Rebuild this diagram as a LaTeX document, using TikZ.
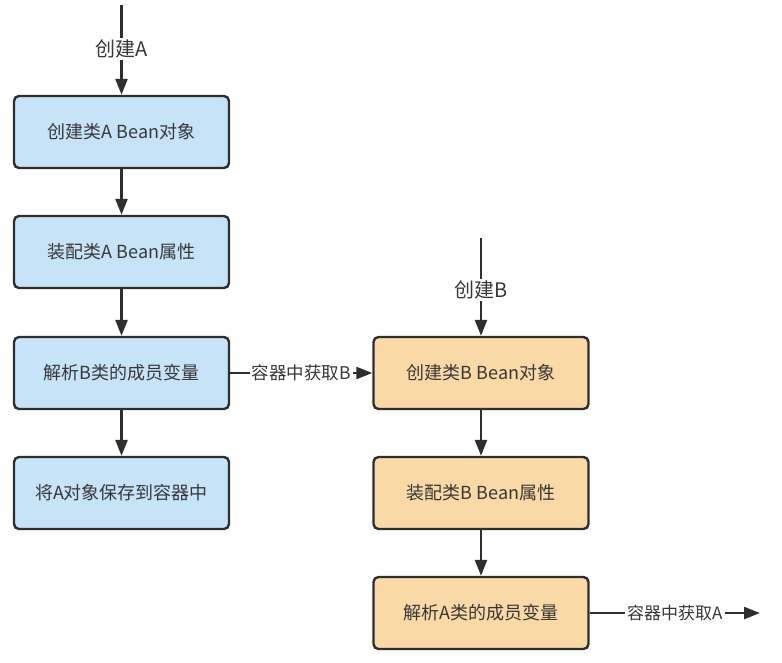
\documentclass[tikz,border=0pt]{standalone}
\usepackage{fontspec}
\setmainfont{Noto Sans CJK SC}
\usepackage{tikz}
\usetikzlibrary{arrows.meta}
\definecolor{boxA}{HTML}{C7E3F8}
\definecolor{boxB}{HTML}{F9D9A6}
\definecolor{edge}{HTML}{2E2E2E}
\definecolor{txt}{HTML}{383838}

\tikzset{
  flow/.style={draw=edge,line width=2.4pt,rounded corners=5pt,minimum width=215pt,
    minimum height=72pt,font=\fontsize{18}{20}\selectfont,text=txt},
  stepA/.style={flow,fill=boxA},
  stepB/.style={flow,fill=boxB},
  lbl/.style={fill=white,inner sep=2pt,font=\fontsize{17.5}{20}\selectfont,text=txt},
  toplbl/.style={lbl,font=\fontsize{20}{22}\selectfont},
  link/.style={draw=edge,line width=2.4pt,-{Triangle[length=16pt,width=12pt]}},
  wire/.style={draw=edge,line width=2.4pt}
}

\begin{document}
\begin{tikzpicture}[x=1pt,y=1pt]
  \useasboundingbox (0,0) rectangle (782,-662);
  % class A
  \coordinate (topA) at (121.5,-5);
  \node[toplbl] (lblA) at (121.5,-49) {创建A};
  \node[stepA] (a1) at (121.5,-132) {创建类A Bean对象};
  \node[stepA] (a2) at (121.5,-252) {装配类A Bean属性};
  \node[stepA] (a3) at (121.5,-373) {解析B类的成员变量};
  \node[stepA] (a4) at (121.5,-493) {将A对象保存到容器中};
  % class B
  \coordinate (topB) at (481,-238);
  \node[toplbl] (lblB) at (481,-290) {创建B};
  \node[stepB] (b1) at (481,-373) {创建类B Bean对象};
  \node[stepB] (b2) at (481,-493) {装配类B Bean属性};
  \node[stepB] (b3) at (481,-613) {解析A类的成员变量};
  \coordinate (endA) at (760,-613);

  \draw[wire] (topA) -- (lblA);
  \draw[link] (lblA) -- (a1);
  \draw[link] (a1) -- (a2);
  \draw[link] (a2) -- (a3);
  \draw[link] (a3) -- (a4);
  \draw[link] (a3) -- node[lbl] {容器中获取B} (b1);

  \draw[wire] (topB) -- (lblB);
  \draw[link] (lblB) -- (b1);
  \draw[link] (b1) -- (b2);
  \draw[link] (b2) -- (b3);
  \draw[link] (b3) -- node[lbl,font=\fontsize{17}{20}\selectfont] {容器中获取A} (endA);
\end{tikzpicture}
\end{document}
